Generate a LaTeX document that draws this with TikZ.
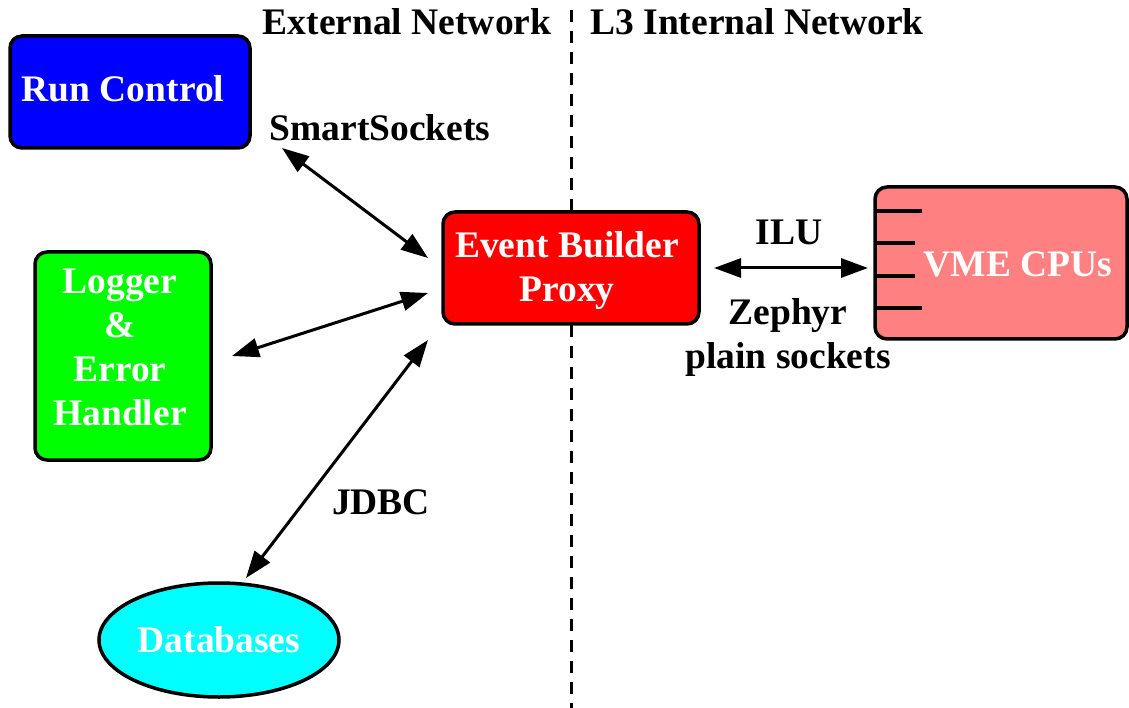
\documentclass[tikz,border=0pt]{standalone}
\usepackage{fontspec}
\setmainfont{Liberation Serif}
\usetikzlibrary{arrows.meta,shapes.geometric}
\definecolor{vmered}{RGB}{255,128,128}
\definecolor{dbcyan}{RGB}{0,255,255}
\definecolor{pureblue}{RGB}{0,0,255}
\definecolor{puregreen}{RGB}{0,255,0}
\definecolor{purered}{RGB}{255,0,0}
\begin{document}
\begin{tikzpicture}[x=1pt,y=-1pt,
  every node/.style={font=\fontsize{37.5}{44}\selectfont\bfseries, inner sep=0pt},
  box/.style={draw=black, line width=3.5pt, rounded corners=12pt},
  lbl/.style={text=black},
  wtxt/.style={text=white},
  conn/.style={line width=3pt, {Triangle[length=27pt,width=19pt]}-{Triangle[length=27pt,width=19pt]}},
  tick/.style={line width=3.5pt}]
\useasboundingbox (0,0) rectangle (1129,708);
% divider
\coordinate (dtop) at (571,10);
\coordinate (dbot) at (571,708);
\draw[line width=3pt, dash pattern=on 12pt off 9pt] (dtop) -- (dbot);
% boxes
\draw[box, fill=pureblue] (10,36) rectangle (250,148);
\node[wtxt] (rc) at (123,89) {Run Control};
\draw[box, fill=puregreen] (35,252) rectangle (211,460);
\node[wtxt, align=center] (log) at (120,347) {Logger\\\&\\Error\\Handler};
\draw[box, fill=purered] (443,212) rectangle (699,324);
\node[wtxt, align=center] (eb) at (567,271) {Event Builder\\Proxy};
\draw[box, fill=vmered] (875,187) rectangle (1127,339);
\node[wtxt] (vme) at (1018,264) {VME CPUs};
\draw[tick] (875,211) -- (922,211);
\draw[tick] (875,243) -- (915,243);
\draw[tick] (875,276) -- (915,276);
\draw[tick] (875,308) -- (922,308);
\node[draw=black, line width=3.5pt, fill=dbcyan, ellipse, minimum width=240pt, minimum height=114pt] (db) at (219,640) {};
\node[wtxt] at (db) {Databases};
% labels
\node[lbl] (ext) at (407,22) {External Network};
\node[lbl] (int) at (757,22) {L3 Internal Network};
\node[lbl] (ss) at (380,128) {SmartSockets};
\node[lbl] (ilu) at (789,232) {ILU};
\node[lbl, align=center] (zp) at (788,337) {Zephyr\\plain sockets};
\node[lbl] (jdbc) at (381,502) {JDBC};
% connector ends
\coordinate (a1) at (282,148); \coordinate (b1) at (428,258);
\coordinate (a2) at (232,356); \coordinate (b2) at (428,293);
\coordinate (a3) at (246,578); \coordinate (b3) at (428,340);
\coordinate (a4) at (714,268); \coordinate (b4) at (868,268);
\draw[conn] (a1) -- (b1);
\draw[conn] (a2) -- (b2);
\draw[conn] (a3) -- (b3);
\draw[conn] (a4) -- (b4);
\end{tikzpicture}
\end{document}
